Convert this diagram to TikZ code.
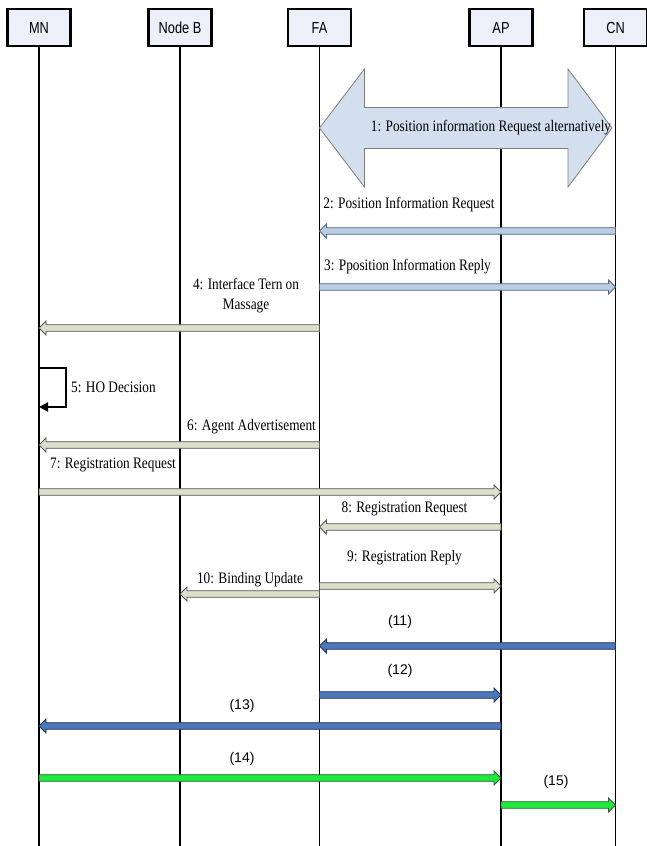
\documentclass[tikz,border=0pt]{standalone}
\usepackage{fontspec}
\setmainfont{Liberation Serif}[FakeStretch=0.83]
\newfontfamily\headfont{Liberation Sans}[FakeStretch=0.8]
\newfontfamily\numfont{Liberation Sans}
\usetikzlibrary{calc,arrows.meta}

\definecolor{boxfill}{HTML}{EDEFF9}
\definecolor{lbfill}{HTML}{B9CDE5}
\definecolor{lbline}{HTML}{56657F}
\definecolor{kfill}{HTML}{DCDFCA}
\definecolor{kline}{HTML}{555555}
\definecolor{dbfill}{HTML}{4A78B8}
\definecolor{dbline}{HTML}{223355}
\definecolor{gfill}{HTML}{1EEB3C}
\definecolor{gline}{HTML}{2D5F2D}
\definecolor{bigfill}{HTML}{D3DFEE}
\definecolor{bigline}{HTML}{7F7F7F}

% thin block arrow from coordinate #1 to coordinate #2 (horizontal)
\newcommand\blockmsg[3]{%
  \path[#3] let \p1=(#1), \p2=(#2), \n1={\x2-7pt*sign(\x2-\x1)} in
    (\x1,\y1+3.3pt) -- (\n1,\y1+3.3pt) -- (\n1,\y1+7pt) -- (\x2,\y1)
    -- (\n1,\y1-7pt) -- (\n1,\y1-3.3pt) -- (\x1,\y1-3.3pt) -- cycle;}

\tikzset{
  entity/.style={draw=black, line width=2.4pt, fill=boxfill, minimum width=63pt,
    minimum height=37pt, inner sep=0pt, font=\headfont\fontsize{16}{18}\selectfont},
  lifeline/.style={line width=1.8pt, black},
  lightmsg/.style={fill=lbfill, draw=lbline, line width=0.8pt},
  khakimsg/.style={fill=kfill, draw=kline, line width=0.8pt},
  bluemsg/.style={fill=dbfill, draw=dbline, line width=0.8pt},
  greenmsg/.style={fill=gfill, draw=gline, line width=0.8pt},
  lbl/.style={inner sep=0pt, font=\fontsize{16}{20}\selectfont, align=center},
  numlbl/.style={inner sep=0pt, font=\numfont\fontsize{14}{16}\selectfont},
  selfloop/.style={line width=2pt, black, -{Triangle[length=9pt,width=9pt]}},
}

\begin{document}
\begin{tikzpicture}[x=1pt, y=-1pt]
\useasboundingbox (0,0) rectangle (647,846);
\fill[white] (0,0) rectangle (647,846);

% participants
\node[entity] (mn) at (39,27.5) {MN};
\node[entity] (nb) at (180,27.5) {Node B};
\node[entity] (fa) at (319.5,27.5) {FA};
\node[entity] (ap) at (501,27.5) {AP};
\node[entity] (cn) at (615.5,27.5) {CN};

\coordinate (bot) at (0,846);
\foreach \e in {mn,nb,fa,ap,cn}
  \draw[lifeline] (\e.south) -- (\e |- bot);

% 1: double block arrow between FA and CN
\coordinate (dl) at (fa |- 0,128);
\coordinate (dr) at (612,128);
\path[fill=bigfill, draw=bigline, line width=0.8pt] let \p1=(dl), \p2=(dr) in
  (\x1,\y1) -- (\x1+45pt,\y1-59pt) -- (\x1+45pt,\y1-20.5pt) -- (\x2-44pt,\y1-20.5pt)
  -- (\x2-44pt,\y1-59pt) -- (\x2,\y1) -- (\x2-44pt,\y1+59pt) -- (\x2-44pt,\y1+20.5pt)
  -- (\x1+45pt,\y1+20.5pt) -- (\x1+45pt,\y1+59pt) -- cycle;
\node[lbl] (t1) at (491,128) {1: Position information Request alternatively};

% messages
\foreach \mk/\mf/\mt/\my/\ms in {
   2/cn/fa/231/lightmsg, 3/fa/cn/287/lightmsg,
   4/fa/mn/328/khakimsg, 6/fa/mn/445/khakimsg,
   7/mn/ap/492/khakimsg, 8/ap/fa/527/khakimsg,
   9/fa/ap/586/khakimsg, 10/fa/nb/594/khakimsg,
   11/cn/fa/646/bluemsg, 12/fa/ap/695/bluemsg,
   13/ap/mn/726/bluemsg, 14/mn/ap/778/greenmsg,
   15/ap/cn/805/greenmsg}{
  \coordinate (s\mk) at (\mf |- 0,\my);
  \coordinate (e\mk) at (\mt |- 0,\my);
  \blockmsg{s\mk}{e\mk}{\ms}
}

% 5: self message on MN
\coordinate (h1) at (mn |- 0,368);
\coordinate (h2) at (mn |- 0,407);
\draw[selfloop] (h1) -- ++(27,0) |- (h2);

% labels
\node[lbl] (t2) at (409,205) {2: Position Information Request};
\node[lbl] (t3) at (407.5,267) {3: Pposition Information Reply};
\node[lbl] (t4) at (246,296) {4: Interface Tern on\\Massage};
\node[lbl, anchor=west] (t5) at (71,387) {5: HO Decision};
\node[lbl] (t6) at (251.5,427) {6: Agent Advertisement};
\node[lbl] (t7) at (113,465) {7: Registration Request};
\node[lbl] (t8) at (404.5,509) {8: Registration Request};
\node[lbl] (t9) at (404.5,558) {9: Registration Reply};
\node[lbl] (t10) at (250,580) {10: Binding Update};
\node[numlbl] (t11) at (400,622) {(11)};
\node[numlbl] (t12) at (400,671) {(12)};
\node[numlbl] (t13) at (242,706) {(13)};
\node[numlbl] (t14) at (242,759) {(14)};
\node[numlbl] (t15) at (556,782) {(15)};
\end{tikzpicture}
\end{document}
